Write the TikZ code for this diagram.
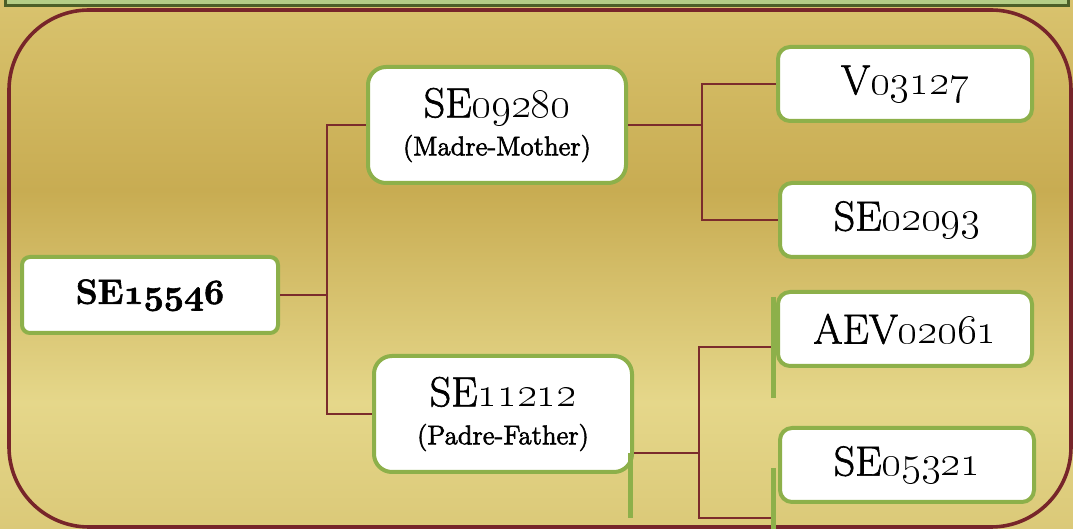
\RequirePackage{fix-cm}
\documentclass[tikz,border=0pt]{standalone}
\usepackage{xcolor}
\usepackage{tikz}
\usetikzlibrary{positioning}
\definecolor{goldtop}{HTML}{D9C36E}
\definecolor{golddark}{HTML}{C8AC52}
\definecolor{goldlight}{HTML}{E5D78A}
\definecolor{goldbottom}{HTML}{DBC978}
\definecolor{leafgreen}{HTML}{8DB04A}
\definecolor{linkred}{HTML}{7B2C2C}
\definecolor{framered}{HTML}{77252A}
\definecolor{barfill}{HTML}{B4CD86}
\definecolor{bardraw}{HTML}{4C5F28}
\pgfdeclareverticalshading{goldbg}{100bp}{color(0bp)=(goldbottom); color(25bp)=(goldbottom);
  color(37bp)=(goldlight); color(57bp)=(golddark); color(75bp)=(goldtop); color(100bp)=(goldtop)}
\newcommand{\relfont}{\fontsize{13.5}{15}\selectfont}
\newcommand{\heavy}[1]{\special{pdf:literal direct 2 Tr 0.3 w}#1\special{pdf:literal direct 0 Tr}}
\newcommand{\boldnums}[1]{{\fontencoding{OML}\fontfamily{cmm}\fontseries{b}\fontshape{it}\selectfont #1}}
\tikzset{
  person/.style={
    rectangle,
    draw=leafgreen,
    line width=2pt,
    fill=white,
    text=black,
    rounded corners=6pt,
    minimum width=127pt,
    minimum height=37pt,
    align=center,
    font=\fontsize{21}{22}\selectfont
  },
  rootbox/.style={
    person,
    rounded corners=4pt,
    minimum width=128pt,
    minimum height=38pt,
    font=\bfseries\fontsize{17.5}{20}\selectfont
  },
  parent/.style={
    person,
    rounded corners=9pt,
    minimum width=129pt,
    minimum height=58pt,
    font=\fontsize{21}{19}\selectfont
  },
  link/.style={
    draw=linkred,
    line width=0.9pt
  },
  stub/.style={
    draw=leafgreen,
    line width=2.5pt
  }
}
\begin{document}
\begin{tikzpicture}[x=0.5pt, y=-0.5pt]
\useasboundingbox (0,0) rectangle (1073,529);
\shade[shading=goldbg] (0,0) rectangle (1073,529);
\draw[bardraw, fill=barfill, line width=1.5pt] (5,-20) rectangle (1068,6);
\draw[framered, line width=1.8pt, rounded corners=40pt] (9,10) rectangle (1071,527);

\node[rootbox] (se15546) at (150,295) {\heavy{SE\boldnums{15546}}};
\node[parent] (se09280) at (497,125) {\heavy{SE\oldstylenums{09280}}\\{\relfont\heavy{(Madre-Mother)}}};
\node[parent] (se11212) at (503,414) {\heavy{SE\oldstylenums{11212}}\\{\relfont\heavy{(Padre-Father)}}};

\node[person] (v03127) at (905,84) {\heavy{V\oldstylenums{03127}}};
\node[person] (se02093) at (907,220) {\heavy{SE\oldstylenums{02093}}};
\node[person] (aev02061) at (905,329) {\heavy{AEV\oldstylenums{02061}}};
\node[person] (se05321) at (907,465) {\heavy{SE\oldstylenums{05321}}};

\coordinate (jroot) at (327,295);
\coordinate (jmother) at (702,125);
\coordinate (jfather) at (699,453);
\coordinate (jend) at (773,518);

\draw[link] (se15546) -- (jroot) |- (se09280);
\draw[link] (jroot) |- (se11212);
\draw[link] (se09280) -- (jmother) |- (v03127);
\draw[link] (jmother) |- (se02093);
\draw[link] (se11212.east |- jfather) -- (jfather) |- ([yshift=-9pt]aev02061.west);
\draw[link] (jfather) |- (jend);

% loose green edges
\draw[stub] (630,453) -- (630,518);
\draw[stub] (773,297) -- (773,398);
\draw[stub] (773,468) -- (773,535);

\end{tikzpicture}
\end{document}
